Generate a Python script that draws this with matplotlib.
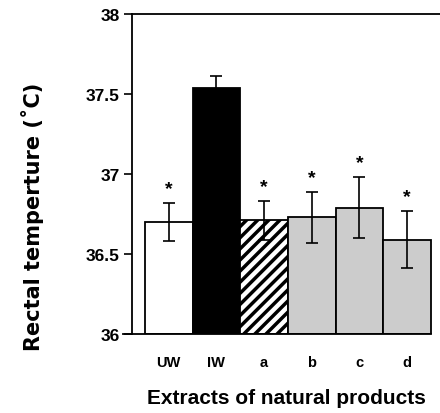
import numpy as np
import matplotlib
matplotlib.use("Agg")
import matplotlib.pyplot as plt

plt.rcParams["font.family"] = ["Liberation Sans", "DejaVu Sans"]
plt.rcParams["font.weight"] = "bold"
plt.rcParams["hatch.linewidth"] = 2.5

groups = ["UW", "IW", "a", "b", "c", "d"]
temps = [36.70, 37.54, 36.71, 36.73, 36.79, 36.59]
errs = [0.12, 0.07, 0.12, 0.16, 0.19, 0.18]
signif = [True, False, True, True, True, True]

fig = plt.figure(figsize=(4.4, 4.14), dpi=100)
ax = fig.add_axes([0.30, 0.191, 0.70, 0.773])

x = np.arange(len(groups))
faces = ["white", "black", "white", "#cccccc", "#cccccc", "#cccccc"]
hatches = [None, None, "///", None, None, None]
for xi, t, fc, h in zip(x, temps, faces, hatches):
    ax.bar(xi, t - 36, bottom=36, width=1.0, color=fc, edgecolor="black",
           linewidth=1.3, hatch=h)
ax.errorbar(x, temps, yerr=errs, fmt="none", ecolor="black", elinewidth=1.2,
            capsize=4.5, capthick=1.2)
for xi, t, e, s in zip(x, temps, errs, signif):
    if s:
        ax.text(xi, t + e + 0.035, "*", ha="center", va="bottom", fontsize=14,
                fontweight="bold")

ax.set_ylim(36, 38)
ax.set_xlim(-0.77, 5.69)
ax.set_yticks([36, 36.5, 37, 37.5, 38])
ax.set_yticklabels(["36", "36.5", "37", "37.5", "38"])
ax.set_xticks(x)
ax.set_xticklabels(groups)
ax.tick_params(axis="y", direction="out", length=6, width=1.2, labelsize=12.5,
               pad=3)
ax.tick_params(axis="x", length=0, pad=15, labelsize=10.5)
ax.spines["right"].set_visible(False)
ax.spines["left"].set_linewidth(1.3)
ax.spines["top"].set_linewidth(1.3)
ax.spines["bottom"].set_linewidth(1.3)
ax.spines["bottom"].set_bounds(-0.95, 5.5)
ax.set_ylabel("Rectal temperture (\u02daC)", fontsize=15, fontweight="bold",
              family=["DejaVu Sans"])
ax.yaxis.set_label_coords(-0.285, 0.37)
ax.set_xlabel("Extracts of natural products", fontsize=15, fontweight="bold",
              labelpad=14)

fig.savefig("out.png", dpi=100)
